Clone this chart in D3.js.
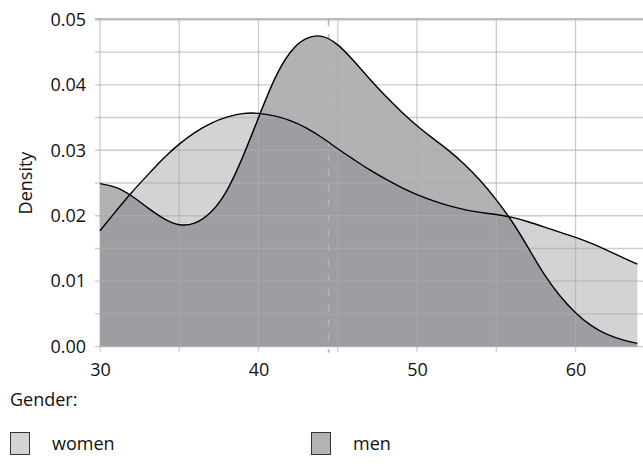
<!DOCTYPE html>
<html><head><meta charset="utf-8">
<script src="https://cdn.jsdelivr.net/npm/d3@7"></script>
<style>
body{margin:0;background:#fff;}
text{font-family:"Open Sans",sans-serif;fill:#111;}
</style></head>
<body><svg id="chart" width="643" height="467"></svg>
<script>
const ages = [30,31,32,33,34,35,36,37,38,39,40,41,42,43,44,45,46,47,48,49,50,51,52,53,54,55,56,57,58,59,60,61,62,63,63.9];
const women = [0.0177,0.0207,0.0236,0.0262,0.0288,0.0310,0.0328,0.0342,0.0351,0.0357,0.0357,0.0353,0.0346,0.0335,0.0320,0.0302,0.0286,0.0270,0.0256,0.0243,0.0232,0.0223,0.0215,0.0209,0.0205,0.0202,0.0198,0.0191,0.0183,0.0175,0.0167,0.0158,0.0147,0.0136,0.0126];
const men = [0.0249,0.0245,0.0231,0.0212,0.0195,0.0184,0.0187,0.0203,0.0235,0.0288,0.0350,0.0411,0.0453,0.0473,0.0477,0.0463,0.0437,0.0409,0.0383,0.0359,0.0337,0.0318,0.0300,0.0279,0.0254,0.0225,0.0192,0.0152,0.0110,0.0077,0.0051,0.0031,0.0018,0.0010,0.0005];
const xTicks = [30,40,50,60];
const xGrid = [30,35,40,45,50,55,60];
const yTicks = [0,0.01,0.02,0.03,0.04,0.05];
const yGrid = [0,0.005,0.01,0.015,0.02,0.025,0.03,0.035,0.04,0.045];
const meanAge = 44.42;
const groups = ["women","men"];

const svg = d3.select("#chart");
const x = d3.scaleLinear().domain([30,63.94]).range([100,638]);
const y = d3.scaleLinear().domain([0,0.05]).range([346.7,19.3]);

const area = d3.area().x((d,i)=>x(ages[i])).y0(y(0)).y1(d=>y(d)).curve(d3.curveBasis);
const line = d3.line().x((d,i)=>x(ages[i])).y(d=>y(d)).curve(d3.curveBasis);

// fills
svg.append("path").attr("d",area(women)).attr("fill","#d2d3d5");
svg.append("path").attr("d",area(men)).attr("fill","#737479").attr("fill-opacity",0.556);

// grid on top
const g = svg.append("g").attr("stroke","#adadad").attr("stroke-opacity",0.62).attr("stroke-width",1.3);
g.selectAll(".gy").data(yGrid).join("line")
  .attr("x1",95).attr("x2",643).attr("y1",d=>y(d)).attr("y2",d=>y(d));
g.selectAll(".gx").data(xGrid).join("line")
  .attr("x1",d=>x(d)).attr("x2",d=>x(d)).attr("y1",y(0.05)).attr("y2",y(0)+5);
// top border
svg.append("line").attr("x1",95).attr("x2",643).attr("y1",y(0.05)).attr("y2",y(0.05))
  .attr("stroke","#bcbcbf").attr("stroke-width",2.6);

// mean dashed line
svg.append("line").attr("x1",x(meanAge)).attr("x2",x(meanAge)).attr("y1",y(0.05)).attr("y2",y(0)+6)
  .attr("stroke","#b5b5b7").attr("stroke-width",1.6).attr("stroke-dasharray","7,8");

// lines
svg.append("path").attr("d",line(women)).attr("fill","none").attr("stroke","#000").attr("stroke-width",1.4);
svg.append("path").attr("d",line(men)).attr("fill","none").attr("stroke","#000").attr("stroke-width",1.4);

// axes labels
const yAxis = d3.axisLeft(y).tickValues(yTicks).tickFormat(d3.format(".2f")).tickSize(0).tickPadding(14);
const ya = svg.append("g").attr("transform","translate(100,0)").call(yAxis);
ya.select(".domain").remove();
ya.selectAll("text").style("font-size","18px").style("font-family","'Open Sans',sans-serif").attr("fill","#111");

const xAxis = d3.axisBottom(x).tickValues(xTicks).tickFormat(d3.format("d")).tickSize(0).tickPadding(17);
const xa = svg.append("g").attr("transform",`translate(0,${y(0)})`).call(xAxis);
xa.select(".domain").remove();
xa.selectAll("text").style("font-size","18px").style("font-family","'Open Sans',sans-serif").attr("fill","#111");

svg.append("text").attr("transform",`translate(32,${(y(0)+y(0.05))/2}) rotate(-90)`)
  .attr("text-anchor","middle").style("font-size","18px").text("Density");

// legend
svg.append("text").attr("x",10).attr("y",406).style("font-size","18px").text("Gender:");
const legColors = ["#d2d3d5","#b2b3b7"];
const legX = [10,311];
groups.forEach((k,i)=>{
  svg.append("rect").attr("x",legX[i]+0.5).attr("y",432.5).attr("width",19).attr("height",22)
    .attr("fill",legColors[i]).attr("stroke","#333").attr("stroke-width",1);
  svg.append("text").attr("x",legX[i]+42).attr("y",450).style("font-size","18px").text(k);
});
</script></body></html>
